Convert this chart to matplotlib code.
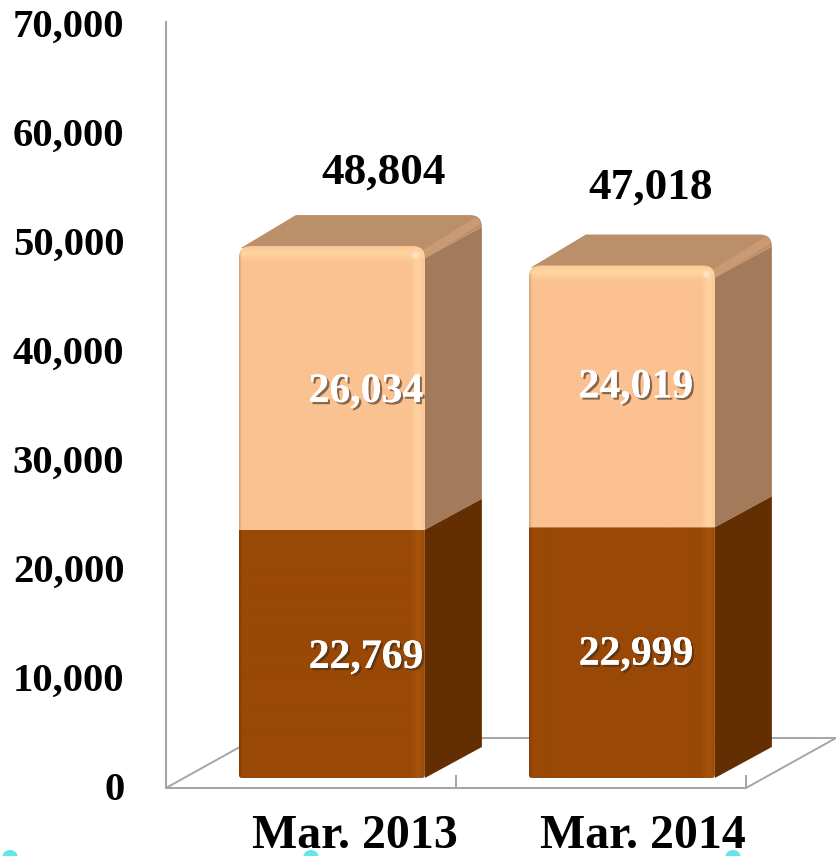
import numpy as np
import matplotlib
matplotlib.use("Agg")
import matplotlib.pyplot as plt
import matplotlib.patheffects as pe
from matplotlib.patches import Polygon, PathPatch, Circle
from matplotlib.path import Path
from matplotlib.transforms import IdentityTransform, Affine2D

plt.rcParams['font.family'] = ['Liberation Serif', 'DejaVu Serif']
plt.rcParams['font.weight'] = 'bold'

categories = ['Mar. 2013', 'Mar. 2014']
lower = [22769, 22999]
upper = [26034, 24019]
totals = [48804, 47018]
y_ticks = [0, 10000, 20000, 30000, 40000, 50000, 60000, 70000]

# pixel sizes of the fake 3d box
W, H = 836, 856
AX_LEFT, AX_RIGHT = 166, 836
AX_BOTTOM, AX_TOP = 788, 25      # from the top of the image
PX_CAT = 290.0
PX_VAL = (AX_BOTTOM - AX_TOP) / 70000.0

FRONT_OFF = 0.072          # bar centre relative to its category centre
BAR_W = 186 / PX_CAT
DX = 57 / PX_CAT
DY = 31 / PX_VAL
BASE = 10 / PX_VAL
RX = 12 / PX_CAT
RY = 12 / PX_VAL

GRID = '#a6a6a6'


def rgb(c):
    return np.array(matplotlib.colors.to_rgb(c))


def rounded_box(x0, x1, y0, y1, rx_top, ry_top, rx_bot, ry_bot):
    verts = [(x0 + rx_bot, y0), (x1 - rx_bot, y0), (x1, y0), (x1, y0 + ry_bot),
             (x1, y1 - ry_top), (x1, y1), (x1 - rx_top, y1),
             (x0 + rx_top, y1), (x0, y1), (x0, y1 - ry_top),
             (x0, y0 + ry_bot), (x0, y0), (x0 + rx_bot, y0), (x0 + rx_bot, y0)]
    codes = [Path.MOVETO, Path.LINETO, Path.CURVE3, Path.CURVE3,
             Path.LINETO, Path.CURVE3, Path.CURVE3,
             Path.LINETO, Path.CURVE3, Path.CURVE3,
             Path.LINETO, Path.CURVE3, Path.CURVE3, Path.CLOSEPOLY]
    return Path(verts, codes)


def front_face(ax, x0, x1, y0, y1, base, hi, top_band, zorder):
    # shaded front of a segment, clipped to a rounded outline
    nx = int(round((x1 - x0) * PX_CAT))
    ny = max(int(round((y1 - y0) * PX_VAL)), 2)
    xs = np.arange(nx) + 0.5
    ys = np.arange(ny) + 0.5   # measured from the top
    amount = np.zeros((ny, nx))
    # bright band just inside the right edge
    right = np.clip(1 - np.abs(xs - (nx - 7)) / 8.0, 0, 1)
    amount = np.maximum(amount, right[None, :] * 0.8)
    img = np.zeros((ny, nx, 3))
    if top_band:
        band = np.clip(1 - np.abs(ys - 7) / 9.0, 0, 1)
        amount = np.maximum(amount, band[:, None] * 0.9)
    for c in range(3):
        img[:, :, c] = base[c] + (hi[c] - base[c]) * amount
    if top_band:
        # hot spot where the two bevels meet
        yy, xx = np.mgrid[0:ny, 0:nx]
        spot = np.exp(-(((xx - (nx - 10)) ** 2 + (yy - 9) ** 2) / 10.0))
        for c in range(3):
            img[:, :, c] = img[:, :, c] + (1.0 - img[:, :, c]) * spot * 0.55
    # soft dark rim on the left side
    rim = np.clip(1 - xs / 3.0, 0, 1)[None, :, None] * 0.18
    img = img * (1 - rim)
    im = ax.imshow(img, extent=(x0, x1, y0, y1), aspect='auto', origin='upper',
                   zorder=zorder, interpolation='bilinear', clip_on=True)
    if top_band:
        path = rounded_box(x0, x1, y0, y1, RX, RY, 0, 0)
    else:
        path = rounded_box(x0, x1, y0, y1, 0, 0, 3 / PX_CAT, 3 / PX_VAL)
    clip = PathPatch(path, transform=ax.transData, fc='none', ec='none')
    ax.add_patch(clip)
    im.set_clip_path(clip)


fig = plt.figure(figsize=(W / 100, H / 100), dpi=100)
ax = fig.add_axes([AX_LEFT / W, 1 - AX_BOTTOM / H,
                   (AX_RIGHT - AX_LEFT) / W, (AX_BOTTOM - AX_TOP) / H])

xlim = (-0.5, -0.5 + (AX_RIGHT - AX_LEFT) / PX_CAT)
x = np.arange(len(categories))

# frame: y axis, front floor edge, side edges of the floor, back edge
ax.spines['top'].set_visible(False)
ax.spines['right'].set_visible(False)
ax.spines['left'].set_color(GRID)
ax.spines['left'].set_linewidth(1.5)
ax.spines['left'].set_bounds(0, 70000 + 3 / PX_VAL)
ax.spines['bottom'].set_color(GRID)
ax.spines['bottom'].set_linewidth(1.5)
ax.spines['bottom'].set_bounds(-0.5, 1.5)

floor_dx = 90 / PX_CAT
floor_dy = 50 / PX_VAL
line_kw = dict(color=GRID, lw=1.4, clip_on=False, zorder=1, solid_capstyle='round')
ax.plot([-0.5, -0.5 + floor_dx], [0, floor_dy], **line_kw)
ax.plot([1.5, 1.5 + floor_dx], [0, floor_dy], **line_kw)
ax.plot([-0.5 + floor_dx, 1.5 + floor_dx], [floor_dy, floor_dy], **line_kw)

dark = dict(base='#994806', hi='#a8570f', side='#622e02')
light = dict(base='#fbc191', hi='#ffd8a2', side='#a37b5b', top='#bc8f6b')

for i in x:
    x0 = i + FRONT_OFF - BAR_W / 2
    x1 = i + FRONT_OFF + BAR_W / 2
    y0 = BASE
    y1 = BASE + lower[i]
    y2 = y1 + upper[i]

    # top and side faces behind the front
    top_path = Path(
        [(x0 + 2 / PX_CAT, y2 - 2 / PX_VAL), (x0 + DX, y2 + DY), (x1 + DX - RX, y2 + DY),
         (x1 + DX, y2 + DY), (x1 + DX, y2 + DY - RY), (x1, y2 - RY), (x0 + 2 / PX_CAT, y2 - 2 / PX_VAL)],
        [Path.MOVETO, Path.LINETO, Path.LINETO, Path.CURVE3, Path.CURVE3, Path.LINETO, Path.CLOSEPOLY])
    ax.add_patch(PathPatch(top_path, fc=light['top'], ec='none', zorder=2, clip_on=False))
    ax.add_patch(Polygon([(x1, y1), (x1 + DX, y1 + DY), (x1 + DX, y2 + DY - RY), (x1, y2 - RY)],
                         closed=True, fc=light['side'], ec='none', zorder=2.1, clip_on=False))
    ax.add_patch(Polygon([(x1, y0), (x1 + DX, y0 + DY), (x1 + DX, y1 + DY), (x1, y1)],
                         closed=True, fc=dark['side'], ec='none', zorder=2.1, clip_on=False))
    # lighter bevel on the top right edge
    ax.plot([x1 + 1 / PX_CAT, x1 + DX - 6 / PX_CAT], [y2 - 7 / PX_VAL, y2 + DY - 7 / PX_VAL],
            color='#cf9f78', lw=6, alpha=0.7, zorder=2.2, solid_capstyle='round')

    front_face(ax, x0, x1, y0, y1, rgb(dark['base']), rgb(dark['hi']), False, 3)
    front_face(ax, x0, x1, y1, y2, rgb(light['base']), rgb(light['hi']), True, 3)

# value labels, placed by hand in px relative to the bars
shadow = [pe.withSimplePatchShadow(offset=(1.6, -1.6), shadow_rgbFace='#3a2a1a', alpha=0.6),
          pe.Normal()]
label_shift = [34, 14]    # px to the right of the bar centre
lower_nudge = [0, 2]      # px above the middle of the segment
upper_nudge = [0, 13]
total_nudge = [78, 82]    # px above the top of the front face
total_shift = [52, 29]

for i in x:
    cx = i + FRONT_OFF + label_shift[i] / PX_CAT
    y1 = BASE + lower[i]
    y2 = y1 + upper[i]
    ax.text(cx, BASE + lower[i] / 2 + (lower_nudge[i] - 14) / PX_VAL, f'{lower[i]:,}', ha='center',
            va='baseline', fontsize=30, color='white', path_effects=shadow, zorder=5)
    ax.text(cx, y1 + upper[i] / 2 + (upper_nudge[i] - 14) / PX_VAL, f'{upper[i]:,}', ha='center',
            va='baseline', fontsize=30, color='white', path_effects=shadow, zorder=5)
    ax.text(i + FRONT_OFF + total_shift[i] / PX_CAT, y2 + (total_nudge[i] - 15) / PX_VAL,
            f'{totals[i]:,}', ha='center', va='baseline', fontsize=32.5, color='black', zorder=5)

ax.set_xlim(*xlim)
ax.set_ylim(0, 70000)

ax.set_yticks(y_ticks)
ax.set_yticklabels([f'{v:,}' for v in y_ticks], fontsize=29.3, color='black')
ax.tick_params(axis='y', length=0, pad=30)
# the comma pulls the centred labels down a little
for lab in ax.get_yticklabels():
    lab.set_transform(lab.get_transform() + Affine2D().translate(0, 2))
ax.set_xticks([-0.5, 0.5, 1.5])
ax.set_xticklabels([])
ax.tick_params(axis='x', which='major', direction='in', length=9.5, width=1.4, color=GRID)
ax.set_xticks(x + np.array([0.15, 0.145]), minor=True)
ax.set_xticklabels(categories, minor=True, fontsize=34.5, color='black')
ax.tick_params(axis='x', which='minor', length=0, pad=18.5)

# small cyan marks along the lower edge
for px in (10, 311, 733):
    fig.add_artist(Circle((px, -2), 8, transform=IdentityTransform(), fc='#62e6ea', ec='none'))

fig.savefig('out.png', dpi=100)
